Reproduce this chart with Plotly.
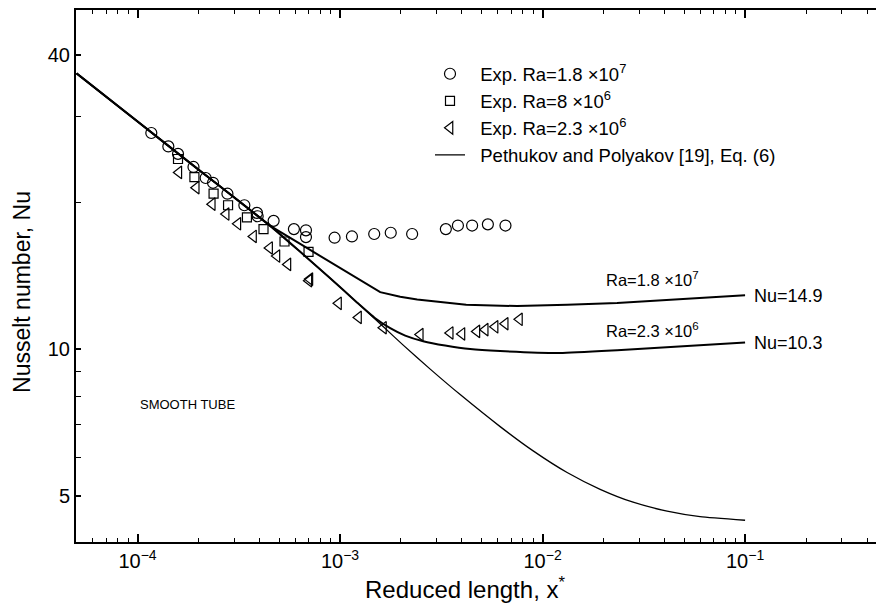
import numpy as np
import plotly.graph_objects as go

circ_x = [1.17e-4, 1.42e-4, 1.585e-4, 1.89e-4, 2.17e-4, 2.36e-4, 2.78e-4, 3.37e-4, 3.89e-4, 3.92e-4,
          4.70e-4, 5.92e-4, 6.79e-4, 6.79e-4, 9.40e-4, 1.145e-3, 1.475e-3, 1.78e-3, 2.27e-3,
          3.33e-3, 3.82e-3, 4.49e-3, 5.37e-3, 6.56e-3]
circ_y = [27.7, 26.0, 25.1, 23.6, 22.4, 21.9, 20.8, 19.7, 19.0, 18.7,
          18.3, 17.6, 17.5, 16.95, 16.9, 17.0, 17.2, 17.3, 17.2,
          17.6, 17.9, 17.9, 18.0, 17.9]

sq_x = [1.585e-4, 1.91e-4, 2.375e-4, 2.80e-4, 3.47e-4, 4.19e-4, 5.32e-4, 6.99e-4]
sq_y = [24.5, 22.5, 20.8, 19.7, 18.6, 17.6, 16.6, 15.8]

tri_x = [1.60e-4, 1.95e-4, 2.34e-4, 2.74e-4, 3.13e-4, 3.74e-4, 4.49e-4, 4.88e-4, 5.53e-4,
         7.02e-4, 7.1e-4, 9.83e-4, 1.234e-3, 1.639e-3, 2.49e-3, 3.50e-3, 4.00e-3, 4.74e-3,
         5.21e-3, 5.83e-3, 6.54e-3, 7.69e-3]
tri_y = [23.0, 21.4, 19.8, 18.9, 18.05, 17.0, 16.1, 15.5, 14.9,
         13.8, 13.9, 12.4, 11.6, 11.05, 10.7, 10.78, 10.73, 10.86,
         10.95, 11.1, 11.26, 11.5]

# ---- correlation curves ----
curveA_x = [5e-5, 1e-4, 2e-4, 3e-4, 4.523e-4, 6.36e-4, 8.944e-4, 1.189e-3, 1.579e-3, 1.982e-3,
            2.404e-3, 4.197e-3, 7.49e-3, 1.322e-2, 2.334e-2, 4.94e-2, 0.1]
curveA_y = [36.7, 29.25, 23.3, 20.45, 17.87, 16.41, 15.07, 14.03, 13.07, 12.79,
            12.62, 12.32, 12.24, 12.32, 12.42, 12.66, 12.88]

curveB_x = [5e-5, 1e-4, 2e-4, 3e-4, 4.523e-4, 6.36e-4, 8.944e-4, 1.216e-3, 1.492e-3, 1.769e-3,
            2.098e-3, 2.574e-3, 3.305e-3, 4.392e-3, 6.175e-3, 1.221e-2, 2.334e-2, 4.94e-2, 0.1]
curveB_y = [36.7, 29.25, 23.3, 20.45, 17.87, 15.81, 13.96, 12.44, 11.56, 11.03,
            10.65, 10.37, 10.16, 9.99, 9.90, 9.81, 9.94, 10.13, 10.31]

curveC_x = [5e-5, 1e-4, 2e-4, 3e-4, 4.523e-4, 6.36e-4, 8.944e-4, 1.216e-3, 1.633e-3, 2.051e-3,
            2.788e-3, 3.92e-3, 6.175e-3, 8.987e-3, 1.322e-2, 1.925e-2, 2.8e-2, 4.121e-2, 5.995e-2, 0.1]
curveC_y = [36.7, 29.25, 23.3, 20.45, 17.87, 15.81, 13.96, 12.44, 11.11, 10.18,
            9.09, 8.06, 6.93, 6.18, 5.58, 5.155, 4.85, 4.65, 4.53, 4.455]

NB = "\u00a0\u00a0"
legend_names = [NB + "Exp. Ra=1.8 \u00d710<sup>7</sup>", NB + "Exp. Ra=8 \u00d710<sup>6</sup>",
                NB + "Exp. Ra=2.3 \u00d710<sup>6</sup>", NB + "Pethukov and Polyakov [19], Eq. (6)"]

x_major = [1e-4, 1e-3, 1e-2, 1e-1]
x_major_text = ["10<sup>\u22124</sup>", "10<sup>\u22123</sup>", "10<sup>\u22122</sup>", "10<sup>\u22121</sup>"]
x_minor = [m * 10.0 ** e for e in range(-5, 0) for m in range(2, 10) if 5e-5 <= m * 10.0 ** e <= 0.45]
y_major = [5, 10, 40]
y_minor = [6, 7, 8, 9, 20, 30]

FONT = "Liberation Sans, Arial, Helvetica, sans-serif"

fig = go.Figure()
fig.add_trace(go.Scatter(x=circ_x, y=circ_y, mode="markers", name=legend_names[0],
                         marker=dict(symbol="circle-open", size=11, color="black", line=dict(width=1.2))))
fig.add_trace(go.Scatter(x=sq_x, y=sq_y, mode="markers", name=legend_names[1],
                         marker=dict(symbol="square-open", size=9, color="black", line=dict(width=1.2))))
fig.add_trace(go.Scatter(x=tri_x, y=tri_y, mode="markers", name=legend_names[2],
                         marker=dict(symbol="triangle-left-open", size=11, color="black", line=dict(width=1.2))))
fig.add_trace(go.Scatter(x=curveC_x, y=curveC_y, mode="lines", name=legend_names[3],
                         line=dict(color="black", width=1.3, shape="spline", smoothing=0.5)))
fig.add_trace(go.Scatter(x=curveA_x, y=curveA_y, mode="lines", showlegend=False,
                         line=dict(color="black", width=2, shape="linear")))
fig.add_trace(go.Scatter(x=curveB_x, y=curveB_y, mode="lines", showlegend=False,
                         line=dict(color="black", width=2, shape="spline", smoothing=0.5)))

ra_font = dict(family=FONT, size=16.5, color="black")
nu_font = dict(family=FONT, size=18, color="black")
annotations = [
    dict(x=np.log10(0.0201), y=np.log10(13.92), text="Ra=1.8 \u00d710<sup>7</sup>", font=ra_font),
    dict(x=np.log10(0.1083), y=np.log10(12.86), text="Nu=14.9", font=nu_font),
    dict(x=np.log10(0.0201), y=np.log10(10.95), text="Ra=2.3 \u00d710<sup>6</sup>", font=ra_font),
    dict(x=np.log10(0.1083), y=np.log10(10.3), text="Nu=10.3", font=nu_font),
]
for a in annotations:
    a.update(xref="x", yref="y", showarrow=False, xanchor="left", yanchor="middle")
annotations.append(dict(x=np.log10(1.0e-4), y=np.log10(7.69), xref="x", yref="y", text="SMOOTH TUBE",
                        showarrow=False, xanchor="left", yanchor="middle",
                        font=dict(family=FONT, size=13, color="black")))
# axis titles
annotations.append(dict(x=0.486, y=-0.086, xref="paper", yref="paper", text="Reduced length, x<sup>*</sup>",
                        showarrow=False, xanchor="center", yanchor="middle",
                        font=dict(family=FONT, size=24, color="black")))
annotations.append(dict(x=-0.0675, y=0.47, xref="paper", yref="paper", text="Nusselt number, Nu",
                        showarrow=False, xanchor="center", yanchor="middle", textangle=-90,
                        font=dict(family=FONT, size=23, color="black")))

fig.update_layout(
    width=876, height=605,
    margin=dict(l=76, r=0, t=10, b=63),
    paper_bgcolor="white", plot_bgcolor="white",
    font=dict(family=FONT, color="black"),
    showlegend=True,
    legend=dict(x=0.4425, y=0.915, xanchor="left", yanchor="top", bgcolor="rgba(0,0,0,0)",
                font=dict(family=FONT, size=18.5, color="black"), tracegroupgap=0),
    annotations=annotations,
)
fig.update_xaxes(
    type="log", range=[np.log10(4.97e-5), np.log10(0.443)],
    showgrid=False, zeroline=False, showline=True, linecolor="black", linewidth=2,
    mirror="ticks", ticks="inside", ticklen=8, tickwidth=1.5, tickcolor="black",
    tickvals=x_major, ticktext=x_major_text, tickfont=dict(family=FONT, size=20, color="black"),
    minor=dict(tickvals=x_minor, ticks="inside", ticklen=4, tickwidth=1, tickcolor="black", showgrid=False),
)
fig.update_yaxes(
    type="log", range=[np.log10(4.02), np.log10(49.5)],
    showgrid=False, zeroline=False, showline=True, linecolor="black", linewidth=2,
    mirror=False, ticks="inside", ticklen=5, tickwidth=1.5, tickcolor="black",
    tickvals=y_major, ticktext=[str(v) for v in y_major], tickfont=dict(family=FONT, size=20, color="black"),
    minor=dict(tickvals=y_minor, ticks="inside", ticklen=5, tickwidth=1, tickcolor="black", showgrid=False),
)

fig.write_html("out.html")
